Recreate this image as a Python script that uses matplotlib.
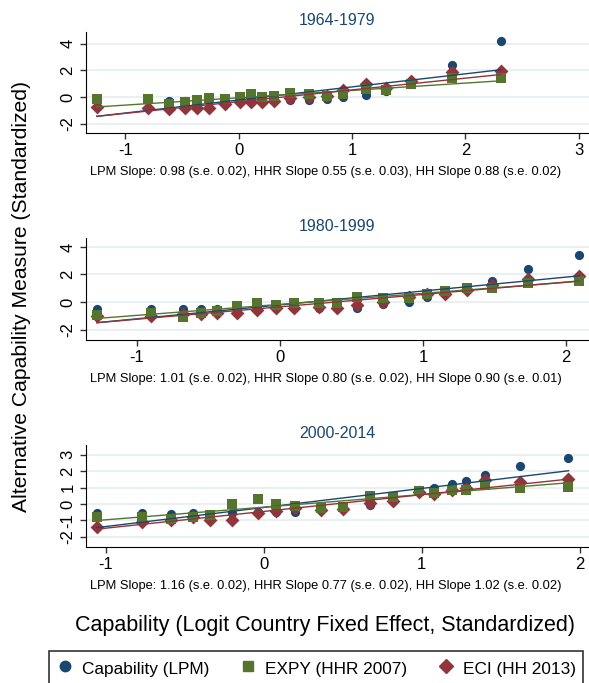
import numpy as np
import matplotlib
matplotlib.use("Agg")
import matplotlib.pyplot as plt
from matplotlib.lines import Line2D

plt.rcParams['font.family'] = ['Liberation Sans', 'DejaVu Sans']
plt.rcParams['axes.unicode_minus'] = False

NAVY = '#1a476f'
GREEN = '#55752f'
MAROON = '#90353b'

# --- data ----------------------------------------------------------------
periods = ['1964-1979', '1980-1999', '2000-2014']

x_6479 = [-1.25, -0.80, -0.61, -0.47, -0.37, -0.26, -0.12, 0.01, 0.11, 0.21,
          0.31, 0.45, 0.62, 0.78, 0.92, 1.12, 1.30, 1.52, 1.88, 2.31]
lpm_6479 = [-0.25, -0.2, -0.3, -0.3, -0.3, -0.2, -0.2, -0.1, -0.1, -0.2,
            -0.2, -0.2, -0.2, -0.15, 0.0, 0.15, 0.45, 1.0, 2.4, 4.2]
expy_6479 = [-0.15, -0.15, -0.5, -0.4, -0.2, -0.1, -0.15, 0.0, 0.25, 0.0,
             0.05, 0.3, 0.25, 0.05, 0.2, 0.6, 0.5, 1.0, 1.45, 1.4]
eci_6479 = [-0.75, -0.85, -0.9, -0.85, -0.85, -0.85, -0.5, -0.4, -0.35, -0.35,
            -0.3, -0.1, 0.0, 0.1, 0.5, 0.95, 0.7, 1.2, 1.9, 1.95]

x_8099 = [-1.28, -0.90, -0.68, -0.55, -0.44, -0.30, -0.16, -0.03, 0.10, 0.27,
          0.40, 0.54, 0.72, 0.90, 1.03, 1.15, 1.31, 1.48, 1.73, 2.09]
lpm_8099 = [-0.5, -0.5, -0.5, -0.5, -0.5, -0.6, -0.6, -0.45, -0.45, -0.45,
            -0.45, -0.4, -0.15, 0.0, 0.4, 0.65, 1.0, 1.5, 2.4, 3.4]
expy_8099 = [-0.95, -0.8, -1.1, -0.8, -0.65, -0.3, -0.1, -0.2, -0.1, -0.1,
             -0.05, 0.4, 0.3, 0.3, 0.6, 0.8, 1.0, 1.05, 1.35, 1.5]
eci_8099 = [-1.05, -1.05, -0.9, -0.9, -0.8, -0.8, -0.6, -0.45, -0.4, -0.35,
            -0.4, -0.2, 0.0, 0.4, 0.6, 0.6, 0.85, 1.2, 1.65, 1.9]

x_0014 = [-1.06, -0.77, -0.59, -0.45, -0.34, -0.20, -0.04, 0.08, 0.20, 0.36,
          0.50, 0.67, 0.82, 0.98, 1.08, 1.19, 1.28, 1.40, 1.62, 1.93]
lpm_0014 = [-0.57, -0.57, -0.63, -0.57, -0.6, -0.53, -0.5, -0.47, -0.47, -0.3,
            -0.27, -0.06, 0.2, 0.85, 0.95, 1.22, 1.4, 1.77, 2.34, 2.83]
expy_0014 = [-0.8, -0.77, -0.93, -0.77, -0.67, -0.02, 0.3, 0.0, -0.1, -0.27,
             -0.17, 0.49, 0.45, 0.8, 0.7, 0.85, 0.85, 1.16, 0.96, 1.02]
eci_0014 = [-1.38, -1.08, -0.95, -0.8, -0.97, -0.98, -0.53, -0.4, -0.27, -0.37,
            -0.3, 0.04, 0.2, 0.75, 0.59, 0.85, 0.95, 1.46, 1.36, 1.52]

# fitted lines: slope and intercept for LPM, HHR, HH
slopes = [(0.98, 0.55, 0.88), (1.01, 0.80, 0.90), (1.16, 0.77, 1.02)]
intercepts = [(-0.225, -0.06, -0.35), (-0.21, -0.17, -0.35), (-0.21, -0.19, -0.45)]
slope_se = [(0.02, 0.03, 0.02), (0.02, 0.02, 0.01), (0.02, 0.02, 0.02)]

xs = [x_6479, x_8099, x_0014]
lpms = [lpm_6479, lpm_8099, lpm_0014]
expys = [expy_6479, expy_8099, expy_0014]
ecis = [eci_6479, eci_8099, eci_0014]

xticks = [[-1, 0, 1, 2, 3], [-1, 0, 1, 2], [-1, 0, 1, 2]]
yticks = [[-2, 0, 2, 4], [-2, 0, 2, 4], [-2, -1, 0, 1, 2, 3]]
xlims = [(-1.345, 3.09), (-1.357, 2.16), (-1.127, 2.06)]
ylims = [(-2.7, 4.87), (-2.76, 4.65), (-2.62, 3.6)]

# --- layout (pixel positions of each plot region) ------------------------
W, H = 589, 683
panels_px = [(32, 133), (238, 340), (445, 547)]  # top, bottom

fig = plt.figure(figsize=(W / 100, H / 100), dpi=100)

for i in range(3):
    top, bot = panels_px[i]
    ax = fig.add_axes([86 / W, 1 - bot / H, (W - 86) / W, (bot - top) / H])
    x = np.array(xs[i])

    ax.scatter(x, lpms[i], s=44, marker='o', color=NAVY, zorder=3, linewidths=0)
    ax.scatter(x, ecis[i], s=50, marker='D', color=MAROON, zorder=3, linewidths=0)
    ax.scatter(x, expys[i], s=54, marker='s', color=GREEN, zorder=3, linewidths=0)

    xx = np.array([x.min(), x.max()])
    for b, a, c in zip(slopes[i], intercepts[i], [NAVY, GREEN, MAROON]):
        ax.plot(xx, a + b * xx, color=c, lw=1.0, zorder=4)

    ax.set_xlim(*xlims[i])
    ax.set_ylim(*ylims[i])
    ax.set_xticks(xticks[i])
    ax.set_yticks(yticks[i])
    ax.tick_params(axis='both', labelsize=12, length=4, width=1, color='#333333')
    for lab in ax.get_yticklabels():
        lab.set_rotation(90)
        lab.set_va('center')
    ax.yaxis.grid(True, color='#e6eef0', lw=1.2)
    ax.set_axisbelow(True)
    for s in ['top', 'right']:
        ax.spines[s].set_visible(False)
    ax.set_title(periods[i], fontsize=11.5, color=NAVY, pad=5)

    b1, b2, b3 = slopes[i]
    s1, s2, s3 = slope_se[i]
    txt = (f'LPM Slope: {b1:.2f} (s.e. {s1:.2f}), HHR Slope {b2:.2f} (s.e. {s2:.2f}), '
           f'HH Slope {b3:.2f} (s.e. {s3:.2f})')
    fig.text(326 / W, 1 - (bot + 39) / H, txt, ha='center', va='center', fontsize=9.3)

fig.text(22 / W, 1 - 296 / H, 'Alternative Capability Measure (Standardized)',
         rotation=90, ha='center', va='center', fontsize=15.2)
fig.text(325 / W, 1 - 625 / H, 'Capability (Logit Country Fixed Effect, Standardized)',
         ha='center', va='center', fontsize=15.5)

handles = [
    Line2D([], [], marker='o', ls='', color=NAVY, markersize=7.5),
    Line2D([], [], marker='s', ls='', color=GREEN, markersize=7.5),
    Line2D([], [], marker='D', ls='', color=MAROON, markersize=7.5),
]
labels = ['Capability (LPM)', 'EXPY (HHR 2007)', 'ECI (HH 2013)']
leg = fig.legend(handles, labels, loc='upper left', bbox_to_anchor=(49 / W, 1 - 651 / H),
                 ncol=3, fontsize=12.4, frameon=True, fancybox=False, edgecolor='black',
                 handletextpad=0.5, columnspacing=1.75, handlelength=1.0, handleheight=1.4,
                 borderpad=0.4, borderaxespad=0)
leg.get_frame().set_linewidth(1.2)

fig.savefig('out.png', dpi=100)
